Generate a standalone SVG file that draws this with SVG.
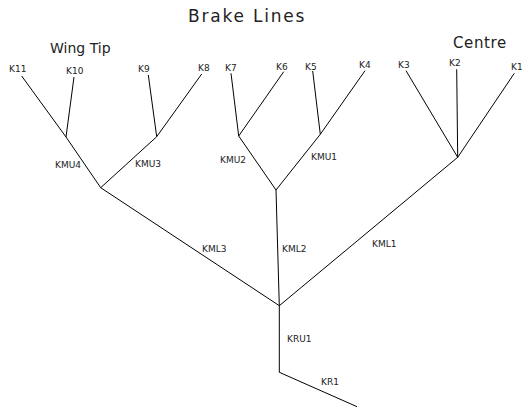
<svg xmlns="http://www.w3.org/2000/svg" width="522" height="407" viewBox="0 0 522 407">
<style>
text{font-family:"DejaVu Sans",Verdana,sans-serif;fill:#222}
.l{font-size:9px}
.t{font-size:17px;letter-spacing:1.8px}
.h{font-size:14px}
#connectors line,#connectors polyline{stroke:#000;stroke-width:1;fill:none}
</style>
<rect width="522" height="407" fill="#fff"/>
<text class="t" x="188" y="22">Brake Lines</text>
<text class="h" x="50" y="53">Wing Tip</text>
<text class="h" x="453" y="48" style="font-size:15px;letter-spacing:0.6px">Centre</text>
<g id="connectors">
<polyline points="21.7,76 66,137 100.7,187.7 279.3,305.7"/>
<line x1="74" y1="77" x2="66" y2="137"/>
<line x1="148.3" y1="75" x2="156.7" y2="136.7"/>
<polyline points="201.7,74 156.7,136.7 100.7,187.7"/>
<polyline points="231,73.3 238.7,136 276,190 279.3,305.7"/>
<line x1="283.7" y1="71.7" x2="238.7" y2="136"/>
<line x1="312.7" y1="71" x2="320.3" y2="134.3"/>
<polyline points="365,70.7 320.3,134.3 276,190"/>
<line x1="406" y1="70.7" x2="457.7" y2="157.3"/>
<line x1="456.7" y1="69.3" x2="457.7" y2="157.3"/>
<line x1="514.3" y1="73.3" x2="457.7" y2="157.3"/>
<line x1="457.7" y1="157.3" x2="279.3" y2="305.7"/>
<polyline points="279.3,305.7 279.3,372.3 357,406.7"/>
</g>
<g id="K11"><text class="l" x="9" y="72">K11</text></g>
<g id="K10"><text class="l" x="66" y="74">K10</text></g>
<g id="K9"><text class="l" x="138" y="72">K9</text></g>
<g id="K8"><text class="l" x="198" y="71">K8</text></g>
<g id="K7"><text class="l" x="225" y="71">K7</text></g>
<g id="K6"><text class="l" x="276" y="70">K6</text></g>
<g id="K5"><text class="l" x="305" y="70">K5</text></g>
<g id="K4"><text class="l" x="359" y="68">K4</text></g>
<g id="K3"><text class="l" x="398" y="68">K3</text></g>
<g id="K2"><text class="l" x="449" y="66">K2</text></g>
<g id="K1"><text class="l" x="511" y="70">K1</text></g>
<g id="KMU4"><text class="l" x="55" y="168">KMU4</text></g>
<g id="KMU3"><text class="l" x="135" y="167">KMU3</text></g>
<g id="KMU2"><text class="l" x="220" y="163">KMU2</text></g>
<g id="KMU1"><text class="l" x="311" y="160">KMU1</text></g>
<g id="KML3"><text class="l" x="202" y="252">KML3</text></g>
<g id="KML2"><text class="l" x="282" y="252">KML2</text></g>
<g id="KML1"><text class="l" x="372" y="247">KML1</text></g>
<g id="KRU1"><text class="l" x="287" y="342">KRU1</text></g>
<g id="KR1"><text class="l" x="321" y="385">KR1</text></g>
</svg>
